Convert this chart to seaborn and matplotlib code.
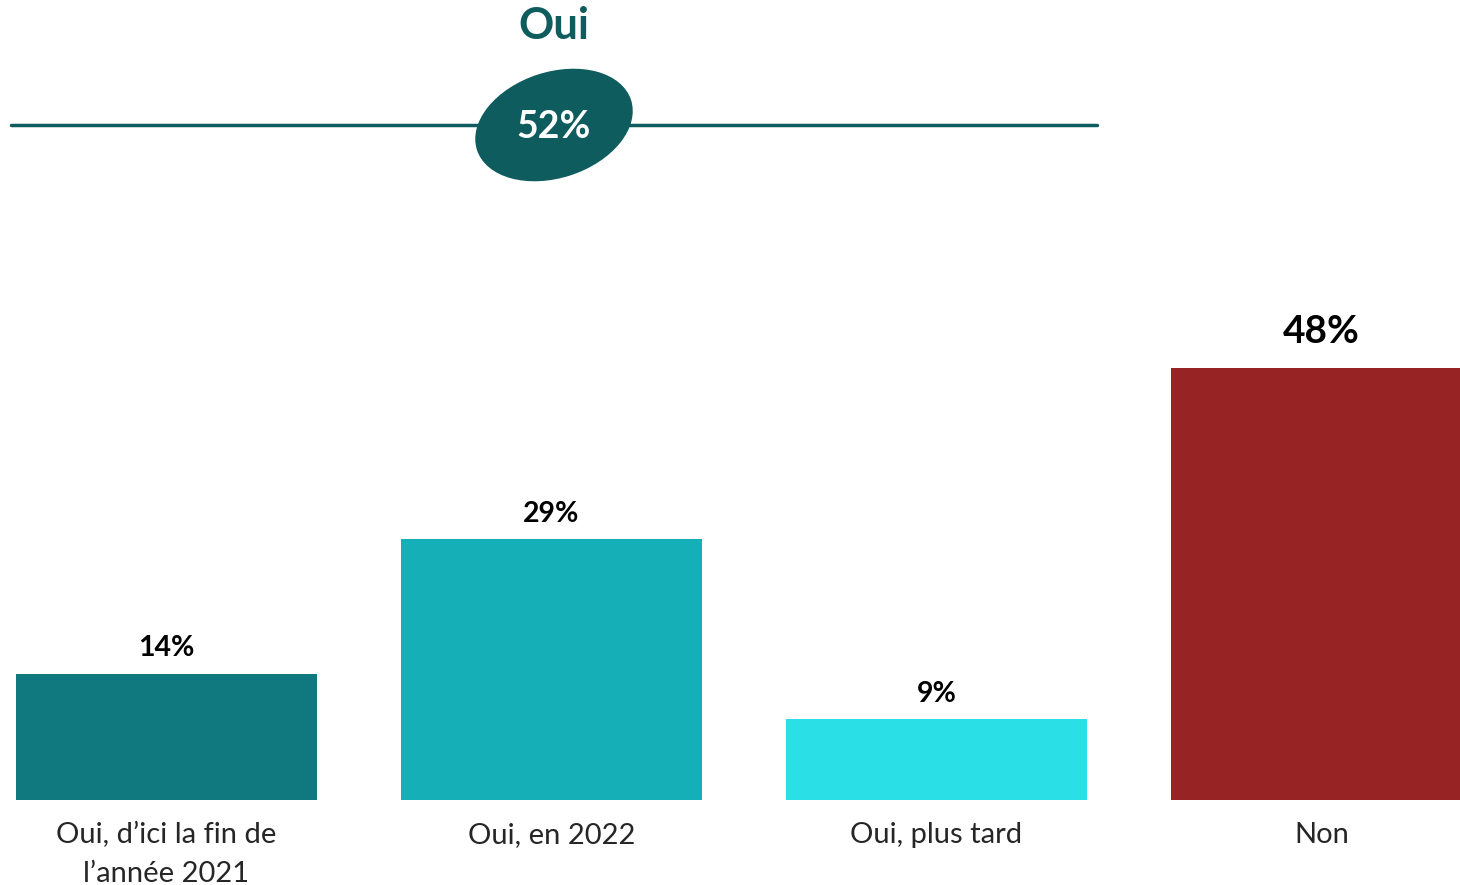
import matplotlib
matplotlib.use("Agg")
import matplotlib.pyplot as plt
from matplotlib.patches import Ellipse
from matplotlib.lines import Line2D
import pandas as pd
import seaborn as sns

# === Data ===
categories = ["Oui, d’ici la fin de\nl’année 2021", "Oui, en 2022", "Oui, plus tard", "Non"]
values = [14, 29, 9, 48]
bar_colors = ["#10797F", "#14AFB7", "#2ADFE6", "#982324"]
oui_total = "52%"

df = pd.DataFrame({"cat": categories, "val": values})

sns.set_style("white")
plt.rcParams["font.family"] = ["Lato", "DejaVu Sans"]

fig = plt.figure(figsize=(14.6, 8.85), dpi=100)
ax = fig.add_axes([0, 85 / 885, 1, 800 / 885])

sns.barplot(data=df, x="cat", y="val", hue="cat", palette=bar_colors,
            width=0.78, saturation=1, legend=False, linewidth=0, ax=ax)

ax.set_xlim(-0.4325, 3.36)
ax.set_ylim(0, 800 / 9)
for s in ax.spines.values():
    s.set_visible(False)
ax.set_yticks([])
ax.set_xlabel("")
ax.set_ylabel("")
ax.tick_params(axis="x", length=0, pad=16, labelsize=21)
for lbl in ax.get_xticklabels():
    lbl.set_linespacing(1.6)

# ============ Value labels ============
for i, v in enumerate(values):
    fs = 28 if i == 3 else 20.5
    ax.annotate(f"{v}%", (i, v), xytext=(0, 9 if i < 3 else 14),
                textcoords="offset points", ha="center", va="bottom",
                fontsize=fs, fontweight="bold", color="black")

# ============ "Oui" header ============
teal = "#0E5C5E"
fig.add_artist(Line2D([11 / 1460, 1097 / 1460], [1 - 125 / 885, 1 - 125 / 885],
                      color=teal, lw=2.5, transform=fig.transFigure))
fig.add_artist(Ellipse((5.54, 8.85 - 1.25), 1.62, 1.06, angle=18,
                       facecolor=teal, edgecolor="none",
                       transform=fig.dpi_scale_trans))
fig.text(554 / 1460, 1 - 127 / 885, oui_total, ha="center", va="center",
         fontsize=27, fontweight="bold", color="white")
fig.text(554 / 1460, 1 - 26 / 885, "Oui", ha="center", va="center",
         fontsize=31.5, fontweight="bold", color=teal)

fig.savefig("out.png", dpi=100)
